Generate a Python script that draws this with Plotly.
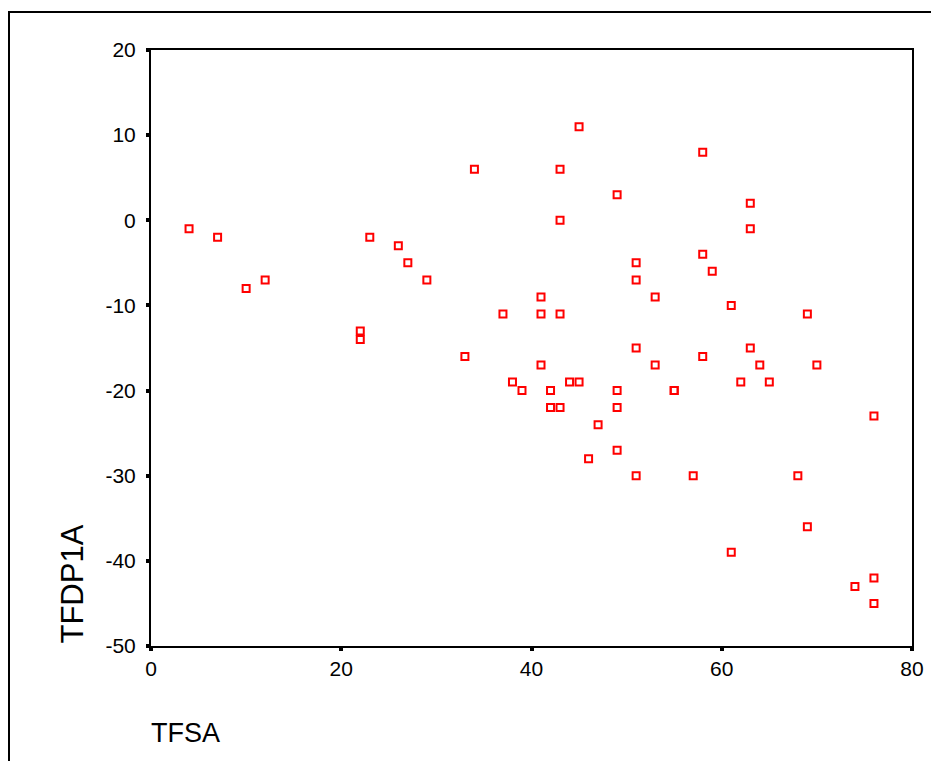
import plotly.graph_objects as go

# Data (TFSA vs TFDP1A)
tfsa = [4, 7, 10, 12, 22, 22, 23, 26, 27, 29, 33, 34, 37, 38, 39, 41, 41, 41,
        42, 42, 43, 43, 43, 43, 44, 45, 45, 46, 47, 49, 49, 49, 49, 51, 51, 51,
        51, 53, 53, 55, 55, 57, 58, 58, 58, 59, 61, 61, 62, 63, 63, 63, 64, 65,
        68, 69, 69, 70, 74, 76, 76, 76]
tfdp1a = [-1, -2, -8, -7, -13, -14, -2, -3, -5, -7, -16, 6, -11, -19, -20, -9, -11, -17,
          -20, -22, -22, -11, 0, 6, -19, -19, 11, -28, -24, 3, -20, -22, -27, -5, -7, -15,
          -30, -9, -17, -20, -20, -30, 8, -4, -16, -6, -10, -39, -19, 2, -1, -15, -17, -19,
          -30, -11, -36, -17, -43, -23, -42, -45]

x_ticks = [0, 20, 40, 60, 80]
y_ticks = [20, 10, 0, -10, -20, -30, -40, -50]
x_tick_labels = ["0", "20", "40", "60", "80"]
y_tick_labels = ["20", "10", "0", "-10", "-20", "-30", "-40", "-50"]

W, H = 939, 761
OFF = 8  # page body margin
# target plot area in screenshot pixels
PX0, PX1, PY0, PY1 = 151, 912, 50, 646
L = PX0 - OFF
T = PY0 - OFF
R = W - (PX1 - OFF)
B = H - (PY1 - OFF)
pw, ph = PX1 - PX0, PY1 - PY0


def px(xs):
    return (xs - PX0) / pw


def py(ys):
    return (PY1 - ys) / ph


fig = go.Figure()
fig.add_trace(go.Scatter(
    x=tfsa, y=tfdp1a, mode="markers",
    marker=dict(symbol="square-open", size=7, color="#FF0000",
                line=dict(width=2, color="#FF0000")),
    showlegend=False, hoverinfo="x+y",
))

font = dict(family="Liberation Sans, Arial, sans-serif", color="black")

fig.update_layout(
    width=W, height=H,
    margin=dict(l=L, r=R, t=T, b=B, pad=0),
    paper_bgcolor="white", plot_bgcolor="white",
    font=dict(**font, size=21),
    xaxis=dict(range=[0, 80], tickvals=x_ticks, ticktext=x_tick_labels,
               ticks="outside", ticklen=3,
               tickwidth=4, tickcolor="black", showgrid=False, zeroline=False,
               showline=True, linecolor="black", linewidth=2, mirror=True,
               tickfont=dict(**font, size=21)),
    yaxis=dict(range=[-50, 20], tickvals=y_ticks, ticktext=y_tick_labels,
               ticks="outside", ticklen=3,
               tickwidth=4, tickcolor="black", showgrid=False, zeroline=False,
               showline=True, linecolor="black", linewidth=2, mirror=True,
               tickfont=dict(**font, size=21), ticklabelstandoff=6),
)

# Axis titles placed like the original (SPSS style)
fig.add_annotation(text="TFSA", xref="paper", yref="paper",
                   x=px(149), y=py(733),
                   xanchor="left", yanchor="middle", showarrow=False,
                   font=dict(**font, size=27))
fig.add_annotation(text="TFDP1A", xref="paper", yref="paper",
                   x=px(72), y=py(646), textangle=-90,
                   xanchor="center", yanchor="bottom", showarrow=False,
                   font=dict(**font, size=31))

# Outer frame of the chart window
fig.add_shape(type="rect", xref="paper", yref="paper",
              x0=px(9), x1=px(990),
              y0=py(800), y1=py(12),
              line=dict(color="black", width=2), fillcolor="rgba(0,0,0,0)",
              layer="below")

fig.write_html("out.html")
